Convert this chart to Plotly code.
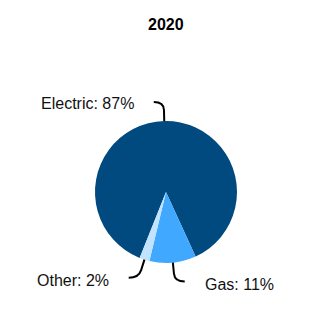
import math
import plotly.graph_objects as go

# ---- data ----
title_text = "2020"
labels = ["Electric", "Gas", "Other"]
values = [87.1, 10.6, 2.3]
colors = ["#004A80", "#40A8FF", "#C2E3FF"]

# ---- layout geometry (pixels) ----
W = H = 332
CX, CY, R = 166, 192, 71
ROTATION = 201.8  # degrees clockwise from 12 o'clock where first slice starts

def px(x):
    return x / W

def py(y):
    return 1 - y / H

fig = go.Figure(go.Pie(
    labels=labels,
    values=values,
    marker=dict(colors=colors, line=dict(width=0)),
    sort=False,
    direction="clockwise",
    rotation=ROTATION,
    textinfo="none",
    hoverinfo="label+percent",
    showlegend=False,
    domain=dict(x=[px(CX - R), px(CX + R)], y=[py(CY + R), py(CY - R)]),
))

total = sum(values)
shapes = []
annotations = []
angle = ROTATION
for lab, v in zip(labels, values):
    span = v / total * 360
    mid = math.radians(angle + span / 2)
    angle += span
    dx, dy = math.sin(mid), -math.cos(mid)
    p0 = (CX + R * dx, CY + R * dy)
    elbow_r = R + 19
    p1 = (CX + elbow_r * dx, CY + elbow_r * dy)
    pm = (CX + (elbow_r - 8) * dx, CY + (elbow_r - 8) * dy)
    side = 1 if dx > 0.02 else -1
    p2 = (p1[0] + side * 10, p1[1])
    path = (f"M {px(p0[0])},{py(p0[1])} L {px(pm[0])},{py(pm[1])} "
            f"Q {px(p1[0])},{py(p1[1])} {px(p2[0])},{py(p2[1])}")
    shapes.append(dict(type="path", path=path, xref="paper", yref="paper",
                       line=dict(color="black", width=2)))
    pct = round(v / total * 100)
    ty = p2[1] + (3 if dy > 0 else 1)
    annotations.append(dict(
        x=px(p2[0] + side * 18), y=py(ty), xref="paper", yref="paper",
        text=f"{lab}: {pct}%", showarrow=False,
        xanchor="left" if side > 0 else "right", yanchor="middle",
        font=dict(family="Liberation Sans, Arial, sans-serif", size=16, color="#111111"),
    ))

annotations.append(dict(
    x=0.5, y=py(24), xref="paper", yref="paper", text=f"<b>{title_text}</b>",
    showarrow=False, xanchor="center", yanchor="middle",
    font=dict(family="Liberation Sans, Arial, sans-serif", size=16, color="#000000"),
))

fig.update_layout(
    width=W, height=H,
    margin=dict(l=0, r=0, t=0, b=0),
    paper_bgcolor="white", plot_bgcolor="white",
    shapes=shapes, annotations=annotations,
)

fig.write_html("out.html")
